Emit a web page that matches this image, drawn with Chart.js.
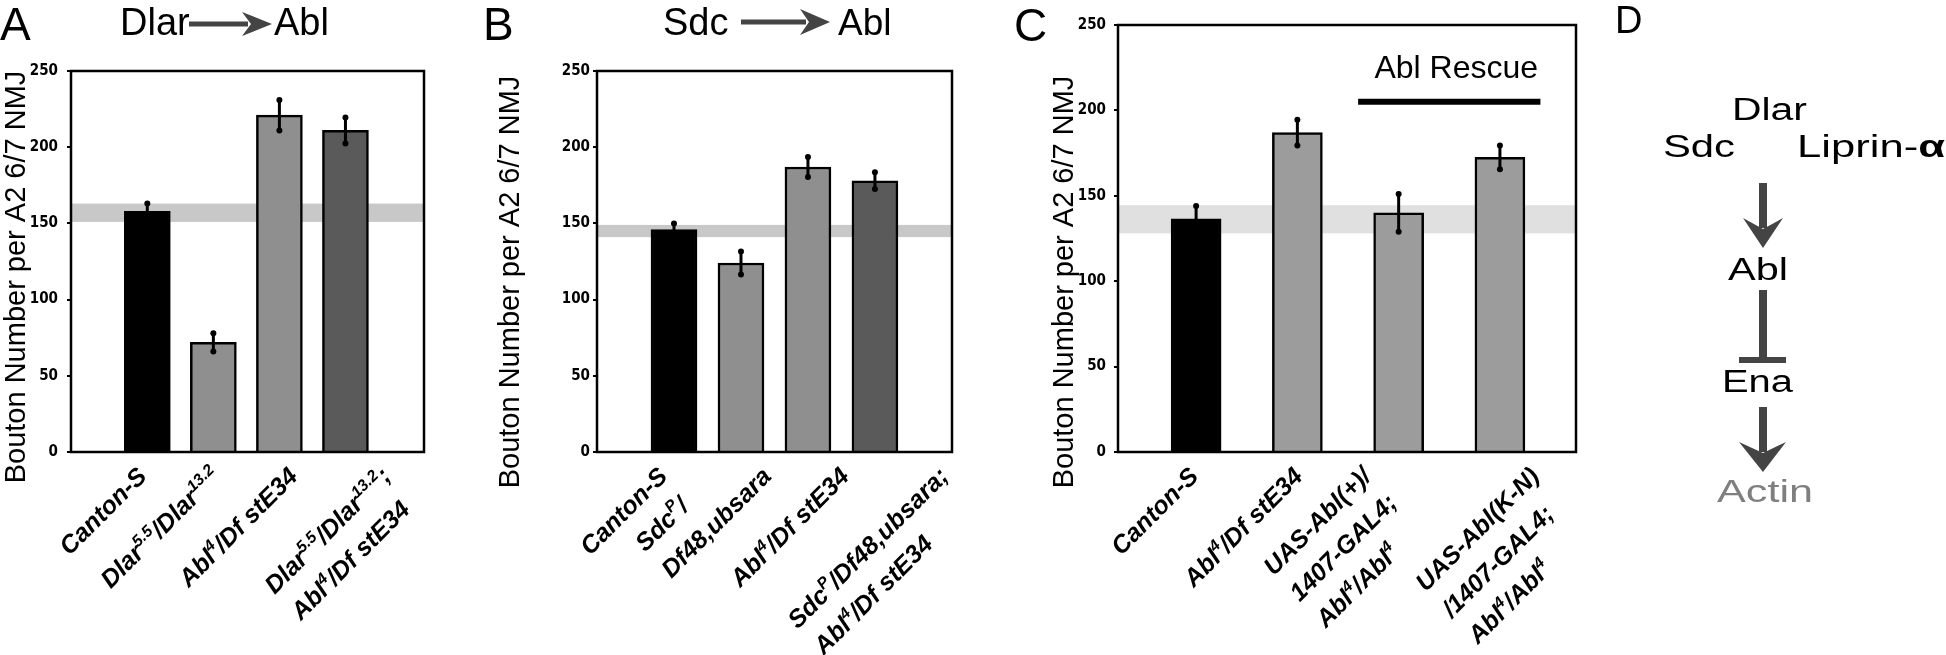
<!DOCTYPE html>
<html>
<head>
<meta charset="utf-8">
<script src="https://cdn.jsdelivr.net/npm/chart.js@4.4.1/dist/chart.umd.min.js"></script>
<style>
  html, body { margin: 0; padding: 0; background: #fff; }
  #fig { position: relative; width: 1946px; height: 655px; overflow: hidden; background: #fff; }
  canvas { position: absolute; top: 0; }
  svg { position: absolute; left: 0; top: 0; pointer-events: none; }
</style>
</head>
<body>
<div id="fig">
  <canvas id="panelA" width="480" height="655" style="left:0px"></canvas>
  <canvas id="panelB" width="500" height="655" style="left:480px"></canvas>
  <canvas id="panelC" width="620" height="655" style="left:980px"></canvas>
  <svg width="1946" height="655" viewBox="0 0 1946 655">
    <g font-family="'Liberation Sans', Arial, Helvetica, sans-serif" fill="#000">
      <text x="0" y="40" font-size="46">A</text>
      <text x="483" y="40" font-size="46">B</text>
      <text x="1014" y="41" font-size="46">C</text>
      <text x="1615" y="33" font-size="38">D</text>

      <!-- panel titles -->
      <text x="120" y="35" font-size="38">Dlar</text>
      <line x1="189" y1="24" x2="248" y2="24" stroke="#444" stroke-width="5"/>
      <polygon points="242,12 272,24 242,36 251,24" fill="#444"/>
      <text x="274" y="35" font-size="38">Abl</text>

      <text x="663" y="35" font-size="38">Sdc</text>
      <line x1="741" y1="22" x2="806" y2="22" stroke="#444" stroke-width="5"/>
      <polygon points="800,9 830,22 800,35 809,22" fill="#444"/>
      <text x="838" y="35" font-size="37">Abl</text>

      <!-- panel D pathway -->
      <text x="1732" y="120" font-size="31" textLength="75" lengthAdjust="spacingAndGlyphs">Dlar</text>
      <text x="1663" y="157" font-size="31" textLength="72" lengthAdjust="spacingAndGlyphs">Sdc</text>
      <text x="1797" y="157" font-size="31" textLength="148" lengthAdjust="spacingAndGlyphs">Liprin-<tspan font-weight="bold">α</tspan></text>
      <rect x="1759" y="183" width="8" height="45" fill="#444"/>
      <polygon points="1743,218 1763,229 1783,218 1763,248" fill="#444"/>
      <text x="1728" y="280" font-size="31" textLength="60" lengthAdjust="spacingAndGlyphs">Abl</text>
      <rect x="1759" y="290" width="8" height="70" fill="#444"/>
      <rect x="1739" y="357" width="47" height="6" fill="#444"/>
      <text x="1722" y="392" font-size="31" textLength="71" lengthAdjust="spacingAndGlyphs">Ena</text>
      <rect x="1759" y="407" width="8" height="45" fill="#444"/>
      <polygon points="1739,442 1763,453 1786,442 1763,472" fill="#444"/>
      <text x="1717" y="502" font-size="31" fill="#7f7f7f" textLength="96" lengthAdjust="spacingAndGlyphs">Actin</text>
    </g>
  </svg>
</div>
<script>
// ---- data ----
const yTitle = 'Bouton Number per A2 6/7 NMJ';

// A: Dlar -> Abl
const genotypesA = [["Canton-S"], ["Dlar^{5.5}/Dlar^{13.2}"], ["Abl^{4}/Df stE34"], ["Dlar^{5.5}/Dlar^{13.2};", "Abl^{4}/Df stE34"]];
const boutonsA = [158, 72, 221, 211];
const semA = [5, 6, 10, 8.5];
const wtBandA = [151, 163];

// B: Sdc -> Abl
const genotypesB = [["Canton-S"], ["Sdc^{P}/", "Df48,ubsara"], ["Abl^{4}/Df stE34"], ["Sdc^{P}/Df48,ubsara;", "Abl^{4}/Df stE34"]];
const boutonsB = [146, 124, 187, 178];
const semB = [4, 7.5, 6.5, 5.5];
const wtBandB = [141, 149];

// C: Abl rescue
const genotypesC = [["Canton-S"], ["Abl^{4}/Df stE34"], ["UAS-Abl(+)/", "1407-GAL4;", "Abl^{4}/Abl^{4}"], ["UAS-Abl(K-N)", "/1407-GAL4;", "Abl^{4}/Abl^{4}"]];
const boutonsC = [136.5, 187, 140, 172.5];
const semC = [7.5, 7.5, 11, 7];
const wtBandC = [128, 144.5];
const rescueSpanC = [2.6, 4.4];
const rescueLevelC = 205;

// ---- styles ----
const barColorsA = ['#000000', '#8f8f8f', '#8f8f8f', '#5a5a5a'];
const barColorsB = ['#000000', '#8f8f8f', '#8f8f8f', '#5a5a5a'];
const barColorsC = ['#000000', '#9c9c9c', '#9c9c9c', '#9c9c9c'];
// labels were placed by hand in the figure, small horizontal shifts (px)
const labelShiftA = [-12, -4, 7, 34];
const labelShiftB = [-18, 19, 30, 62];
const labelShiftC = [-9, -6, -39, 28];

const LABEL_FONT = 'italic bold 25px "Liberation Sans", Arial, sans-serif';
const SUP_FONT = 'italic bold 16px "Liberation Sans", Arial, sans-serif';
const TITLE_FONT = '29px "Liberation Sans", Arial, sans-serif';
const LINE_H = 37, CAP = 18;

function richSegments(s) {
    const parts = s.split(/\^\{([^}]*)\}/);
    return parts.map((t, i) => ({ t, sup: i % 2 === 1 })).filter(p => p.t.length);
}

function richWidth(ctx, segs) {
    let w = 0;
    segs.forEach(s => {
        ctx.font = s.sup ? SUP_FONT : LABEL_FONT;
        w += ctx.measureText(s.t).width;
    });
    return w;
}

function drawRich(ctx, segs, x, y) {
    let cx = x;
    segs.forEach(s => {
        ctx.font = s.sup ? SUP_FONT : LABEL_FONT;
        ctx.fillText(s.t, cx, s.sup ? y - 10 : y);
        cx += ctx.measureText(s.t).width;
    });
}

function extrasPlugin(cfg) {
    return {
        id: 'panelExtras',
        beforeDatasetsDraw(chart) {
            const { ctx, chartArea: a, scales: { y } } = chart;
            const top = y.getPixelForValue(cfg.band[1]);
            const bot = y.getPixelForValue(cfg.band[0]);
            ctx.save();
            ctx.fillStyle = cfg.bandColor;
            ctx.fillRect(a.left, top, a.right - a.left, bot - top);
            ctx.restore();
        },
        afterDatasetsDraw(chart) {
            const { ctx, chartArea: a, scales: { x, y } } = chart;
            ctx.save();

            // error bars
            ctx.strokeStyle = '#000';
            ctx.fillStyle = '#000';
            ctx.lineWidth = 3;
            cfg.values.forEach((v, i) => {
                const px = x.getPixelForValue(i + 1);
                const hi = y.getPixelForValue(v + cfg.errors[i]);
                const lo = y.getPixelForValue(v - cfg.errors[i]);
                ctx.beginPath();
                ctx.moveTo(px, hi);
                ctx.lineTo(px, lo);
                ctx.stroke();
                [hi, lo].forEach(py => {
                    ctx.beginPath();
                    ctx.arc(px, py, 3, 0, Math.PI * 2);
                    ctx.fill();
                });
            });

            // frame
            ctx.lineWidth = 2.5;
            ctx.strokeRect(a.left, a.top, a.right - a.left, a.bottom - a.top);

            // rescue bracket
            if (cfg.rescue) {
                const x0 = x.getPixelForValue(cfg.rescue.span[0]);
                const x1 = x.getPixelForValue(cfg.rescue.span[1]);
                const ry = y.getPixelForValue(cfg.rescue.level);
                ctx.lineWidth = 6;
                ctx.beginPath();
                ctx.moveTo(x0, ry);
                ctx.lineTo(x1, ry);
                ctx.stroke();
                ctx.font = '32px "Liberation Sans", Arial, sans-serif';
                ctx.textAlign = 'center';
                ctx.textBaseline = 'alphabetic';
                ctx.fillText('Abl Rescue', (x0 + x1) / 2 + 7, ry - 24);
            }

            // rotated genotype labels: lines start-aligned, the line reaching
            // highest gets its top-right corner just under the axis
            ctx.textAlign = 'left';
            ctx.textBaseline = 'alphabetic';
            cfg.labels.forEach((lines, i) => {
                const segsList = lines.map(richSegments);
                const widths = segsList.map(s => richWidth(ctx, s));
                let t = 0;
                widths.forEach((w, k) => { if (w - k * LINE_H > widths[t] - t * LINE_H) t = k; });
                ctx.save();
                ctx.translate(x.getPixelForValue(i + 1) + cfg.shift[i], a.bottom + 13);
                ctx.rotate(-Math.PI / 4);
                segsList.forEach((segs, k) => drawRich(ctx, segs, -widths[t], CAP + (k - t) * LINE_H));
                ctx.restore();
            });

            // y axis title
            ctx.save();
            ctx.translate(cfg.titleX, cfg.titleY);
            ctx.rotate(-Math.PI / 2);
            ctx.font = TITLE_FONT;
            ctx.textAlign = 'center';
            ctx.fillText(yTitle, 0, 0);
            ctx.restore();

            ctx.restore();
        }
    };
}

function makePanel(id, cfg) {
    const ctx = document.getElementById(id);
    return new Chart(ctx, {
        type: 'bar',
        data: {
            datasets: [{
                data: cfg.values.map((v, i) => ({ x: i + 1, y: v })),
                backgroundColor: cfg.colors,
                borderColor: '#000',
                borderWidth: 2.5,
                borderSkipped: 'start',
                barThickness: cfg.barWidth
            }]
        },
        options: {
            responsive: false,
            animation: false,
            devicePixelRatio: 1,
            events: [],
            layout: { padding: cfg.padding },
            plugins: { legend: { display: false }, tooltip: { enabled: false } },
            scales: {
                x: { type: 'linear', display: false, min: cfg.xRange[0], max: cfg.xRange[1] },
                y: {
                    min: 0,
                    max: 250,
                    afterFit: (scale) => { scale.width = cfg.axisWidth; },
                    ticks: {
                        stepSize: 50,
                        color: '#000',
                        padding: cfg.tickPad,
                        font: { family: "'Liberation Sans Narrow', 'DejaVu Sans Condensed', sans-serif", weight: 'bold', size: 15 }
                    },
                    grid: { drawOnChartArea: false, drawTicks: true, tickLength: 4, color: '#000', lineWidth: 2 },
                    border: { display: false }
                }
            }
        },
        plugins: [extrasPlugin(cfg)]
    });
}

makePanel('panelA', {
    values: boutonsA, errors: semA, band: wtBandA, labels: genotypesA, shift: labelShiftA,
    colors: barColorsA, bandColor: '#c8c8c8', barWidth: 46,
    xRange: [0.29, 4.744], axisWidth: 71, tickPad: 9,
    padding: { left: 0, top: 71, right: 56, bottom: 203 },
    titleX: 25, titleY: 277
});

makePanel('panelB', {
    values: boutonsB, errors: semB, band: wtBandB, labels: genotypesB, shift: labelShiftB,
    colors: barColorsB, bandColor: '#c8c8c8', barWidth: 46,
    xRange: [0.292, 4.709], axisWidth: 117, tickPad: 3,
    padding: { left: 0, top: 71, right: 28, bottom: 203 },
    titleX: 39, titleY: 282
});

makePanel('panelC', {
    values: boutonsC, errors: semC, band: wtBandC, labels: genotypesC, shift: labelShiftC,
    colors: barColorsC, bandColor: '#e0e0e0', barWidth: 50,
    xRange: [0.48, 4.50], axisWidth: 138, tickPad: 8,
    padding: { left: 0, top: 25, right: 24, bottom: 203 },
    titleX: 93, titleY: 282,
    rescue: { span: rescueSpanC, level: rescueLevelC }
});
</script>
</body>
</html>
